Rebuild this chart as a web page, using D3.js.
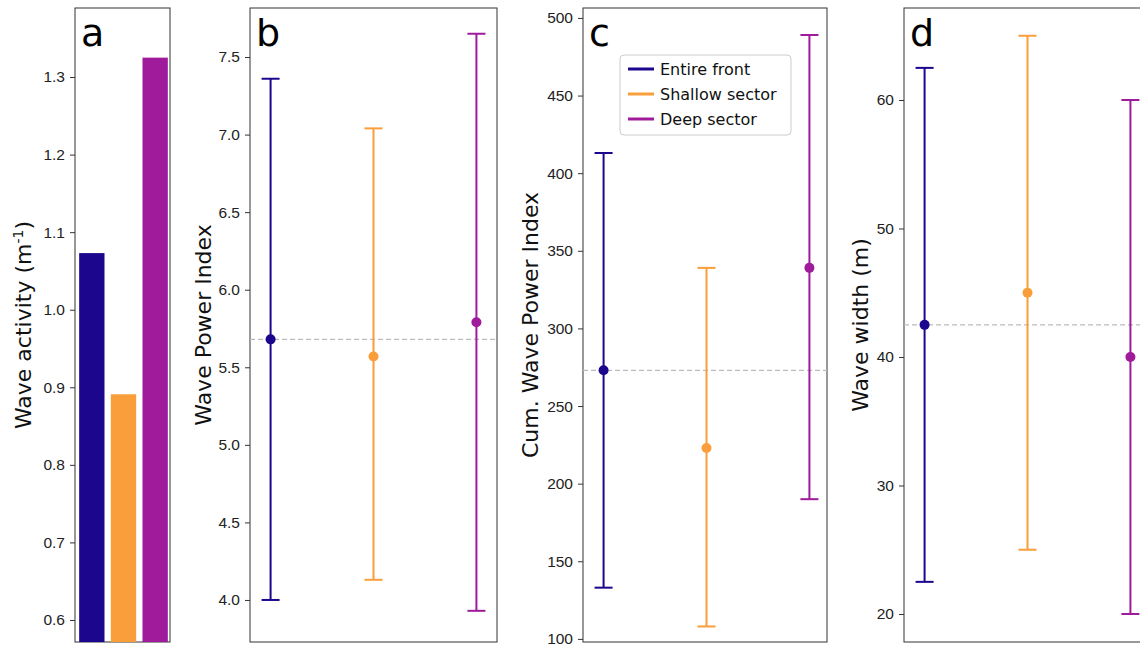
<!DOCTYPE html>
<html><head><meta charset="utf-8">
<script src="https://cdn.jsdelivr.net/npm/d3@7"></script>
<style>body{margin:0;background:#fff}svg{font-family:"DejaVu Sans",sans-serif}</style>
</head><body><div id="wrapper"></div>
<script>
const groups = ["Entire front", "Shallow sector", "Deep sector"]
const colors = ["#1b068d", "#fa9e3b", "#a01a9c"]

const activity = [1.073, 0.891, 1.325]

const wpiMean = [5.68, 5.57, 5.79]
const wpiLow = [4.0, 4.13, 3.93]
const wpiHigh = [7.36, 7.04, 7.65]

const cumMean = [273, 223, 339]
const cumLow = [133, 108, 190]
const cumHigh = [413, 339, 489]

const widthMean = [42.5, 45, 40]
const widthLow = [22.5, 25, 20]
const widthHigh = [62.5, 65, 60]

const svg = d3.select("#wrapper").append("svg").attr("width", 1140).attr("height", 645)
const yTop = 8, yBottom = 642

function frame(x0, x1, yDomain, ticks, fmt, label, letter, labelX) {
    const g = svg.append("g")
    const y = d3.scaleLinear().domain(yDomain).range([yBottom, yTop])
    const ax = g.append("g").attr("transform", `translate(${x0},0)`)
        .call(d3.axisLeft(y).tickValues(ticks).tickFormat(fmt).tickSize(5).tickPadding(5))
    ax.select(".domain").remove()
    ax.selectAll("text").attr("font-size", 15.5).attr("fill", "#222")
    ax.selectAll("line").attr("stroke", "#333")
    g.append("rect").attr("x", x0).attr("y", yTop).attr("width", x1 - x0).attr("height", yBottom - yTop)
        .attr("fill", "none").attr("stroke", "#333").attr("stroke-width", 1)
    g.append("text").attr("transform", `translate(${labelX},${(yTop + yBottom) / 2}) rotate(-90)`)
        .attr("text-anchor", "middle").attr("font-size", 22).attr("fill", "#111").html(label)
    g.append("text").attr("x", x0 + 6).attr("y", yTop + 38).attr("font-size", 38).attr("fill", "#000").text(letter)
    return { g, y }
}

// panel a
{
    const { g, y } = frame(75, 170, [0.5716, 1.389], [0.6, 0.7, 0.8, 0.9, 1.0, 1.1, 1.2, 1.3], d3.format(".1f"),
        'Wave activity (m<tspan dy="-8" font-size="14">-1</tspan><tspan dy="8">)</tspan>', "a", 31)
    const x = d3.scaleBand().domain(groups).range([75, 170]).paddingInner(0.2).paddingOuter(0.1)
    g.selectAll(".bar").data(groups).join("rect")
        .attr("x", d => x(d) + 1).attr("width", x.bandwidth())
        .attr("y", (d, i) => y(activity[i])).attr("height", (d, i) => yBottom - y(activity[i]))
        .attr("fill", (d, i) => colors[i])
}

function errPanel(x0, x1, yDomain, ticks, fmt, label, letter, labelX, mean, low, high) {
    const { g, y } = frame(x0, x1, yDomain, ticks, fmt, label, letter, labelX)
    const x = d3.scaleLinear().domain([-0.2, 2.2]).range([x0, x0 + 247])
    const clip = "clip" + letter
    svg.append("clipPath").attr("id", clip).append("rect").attr("x", x0).attr("y", yTop).attr("width", x1 - x0).attr("height", yBottom - yTop)
    const inner = g.append("g").attr("clip-path", `url(#${clip})`)
    inner.append("line").attr("x1", x0).attr("x2", x1).attr("y1", y(mean[0])).attr("y2", y(mean[0]))
        .attr("stroke", "#bbb").attr("stroke-dasharray", "5,3").attr("stroke-width", 1.2)
    groups.forEach((d, i) => {
        const cx = x(i)
        inner.append("line").attr("x1", cx).attr("x2", cx).attr("y1", y(low[i])).attr("y2", y(high[i]))
            .attr("stroke", colors[i]).attr("stroke-width", 2)
        ;[low[i], high[i]].forEach(v => inner.append("line").attr("x1", cx - 9).attr("x2", cx + 9)
            .attr("y1", y(v)).attr("y2", y(v)).attr("stroke", colors[i]).attr("stroke-width", 2))
        inner.append("circle").attr("cx", cx).attr("cy", y(mean[i])).attr("r", 5).attr("fill", colors[i])
    })
    return g
}

errPanel(250, 497, [3.729, 7.816], [4, 4.5, 5, 5.5, 6, 6.5, 7, 7.5], d3.format(".1f"), "Wave Power Index", "b", 211, wpiMean, wpiLow, wpiHigh)
const gc = errPanel(583, 827, [98, 506.4], d3.range(100, 501, 50), d3.format("d"), "Cum. Wave Power Index", "c", 538, cumMean, cumLow, cumHigh)
errPanel(904, 1160, [17.82, 67.16], [20, 30, 40, 50, 60], d3.format("d"), "Wave width (m)", "d", 868, widthMean, widthLow, widthHigh)

// legend
const lg = gc.append("g").attr("transform", "translate(620,55)")
lg.append("rect").attr("width", 171).attr("height", 80).attr("rx", 4).attr("fill", "#fff").attr("stroke", "#ccc")
groups.forEach((d, i) => {
    lg.append("line").attr("x1", 8).attr("x2", 34).attr("y1", 14 + i * 25).attr("y2", 14 + i * 25)
        .attr("stroke", colors[i]).attr("stroke-width", 3)
    lg.append("text").attr("x", 40).attr("y", 20 + i * 25).attr("font-size", 16).attr("fill", "#111").text(d)
})
</script></body></html>
